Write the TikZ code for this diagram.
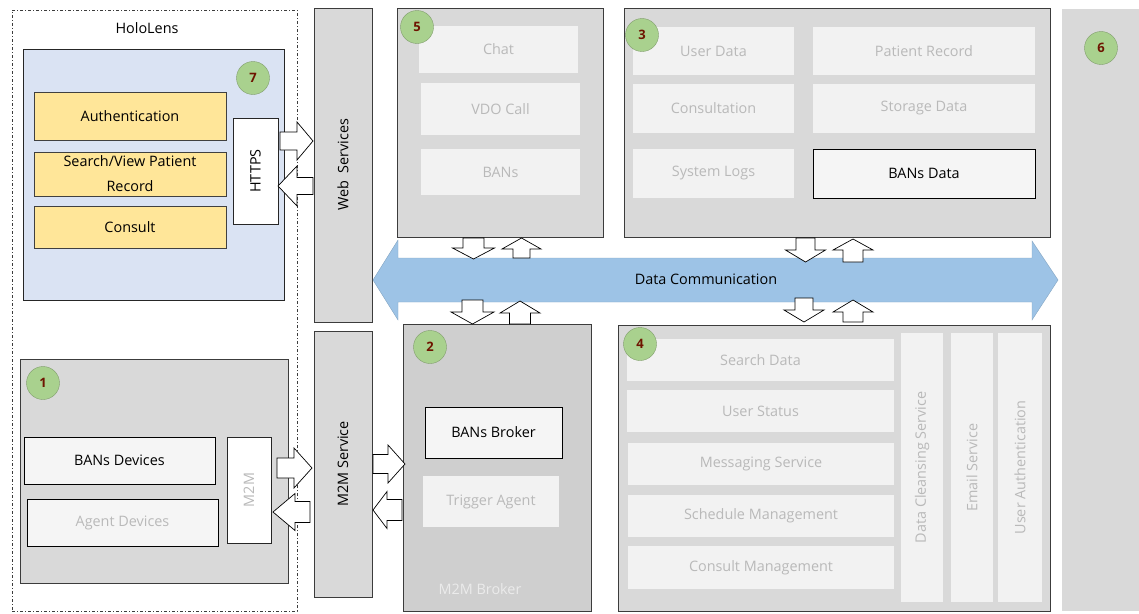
\documentclass[tikz,border=0pt]{standalone}
\usepackage{fontspec}
\setmainfont{Open Sans}
\definecolor{boxgray}{RGB}{217,217,217}
\definecolor{boxgrayB}{RGB}{207,207,207}
\definecolor{innergray}{RGB}{242,242,242}
\definecolor{fainttext}{RGB}{185,185,185}
\definecolor{holoblue}{RGB}{218,227,243}
\definecolor{yel}{RGB}{255,230,153}
\definecolor{commblue}{RGB}{157,195,230}
\definecolor{badgegreen}{RGB}{169,209,142}
\definecolor{badgetext}{RGB}{110,20,0}
\definecolor{edge}{RGB}{60,60,60}
% box by corners: style, name, x1, y1, x2, y2, text
\newcommand{\Bx}[7]{\node[#1,minimum width={(#5)-(#3)},minimum height={(#6)-(#4)}] (#2) at ({((#3)+(#5))/2},{((#4)+(#6))/2}) {#7};}
% rotated (text reads upward)
\newcommand{\Bxr}[7]{\node[#1,rotate=90,minimum height={(#5)-(#3)},minimum width={(#6)-(#4)}] (#2) at ({((#3)+(#5))/2},{((#4)+(#6))/2}) {#7};}
% horizontal block arrow: tail x, head base x, tip x, mid y, shaft half, head half
\newcommand{\Harr}[6]{\draw[blk] ({#1},{#4-#5}) -- ({#2},{#4-#5}) -- ({#2},{#4-#6}) -- ({#3},{#4}) -- ({#2},{#4+#6}) -- ({#2},{#4+#5}) -- ({#1},{#4+#5}) -- cycle;}
% vertical block arrow: tail y, head base y, tip y, mid x, shaft half, head half
\newcommand{\Varr}[6]{\draw[blk] ({#4-#5},{#1}) -- ({#4-#5},{#2}) -- ({#4-#6},{#2}) -- ({#4},{#3}) -- ({#4+#6},{#2}) -- ({#4+#5},{#2}) -- ({#4+#5},{#1}) -- cycle;}
\begin{document}
\begin{tikzpicture}[x=1pt,y=-1pt,
  base/.style={inner sep=0pt, outer sep=0pt, font=\fontsize{14.4}{25}\selectfont, align=center},
  container/.style={base, fill=boxgray, draw=edge, line width=0.7pt},
  faint/.style={base, fill=innergray, text=fainttext},
  whitebox/.style={base, fill=white!96!black, draw=black, line width=0.8pt},
  yellowbox/.style={base, fill=yel, draw=black!75, line width=0.6pt},
  badge/.style={circle, fill=badgegreen, draw=badgegreen!75!black, line width=0.4pt, minimum size=33pt, inner sep=0pt, font=\fontsize{13}{13}\selectfont\bfseries, text=badgetext},
  blk/.style={fill=white, draw=black, line width=0.7pt, line join=miter},
]
\useasboundingbox (0,0) rectangle (1139,613);

% HoloLens frame
\Bx{base, draw=edge, line width=0.7pt, dash pattern=on 3pt off 2pt on 1pt off 2pt}{holo}{12}{10}{297}{611}{}
\node[base] (hololabel) at (147,28) {HoloLens};

% box 7
\Bx{base, fill=holoblue, draw=black!85, line width=0.7pt}{b7}{23}{49}{284}{300}{}
\Bx{yellowbox}{auth}{34}{92}{226}{140}{Authentication}
\Bx{yellowbox}{search}{34}{152}{226}{196}{Search/View Patient\\Record}
\Bx{yellowbox}{consult}{34}{206}{226}{248}{Consult}
\Bxr{base, fill=white, draw=black!85, line width=0.7pt}{https}{233}{118}{278}{224}{HTTPS}
\node[badge] (n7) at (253,78) {7};

% box 1
\Bx{container}{b1}{20}{359}{288}{583}{}
\Bx{whitebox}{bansdev}{24}{437}{215}{484}{BANs Devices}
\Bx{whitebox, text=fainttext}{agentdev}{27}{499}{218}{546}{Agent Devices}
\Bxr{base, fill=white, draw=black!85, line width=0.7pt, text=fainttext}{m2m}{227}{437}{271}{543}{M2M}
\node[badge] (n1) at (43,383) {1};

% service bars
\Bxr{container}{web}{314}{8}{372}{322}{Web\ \ Services}
\Bxr{container}{m2msvc}{314}{331}{372}{597}{M2M Service}

% box 5
\Bx{container}{b5}{397}{8}{603}{237}{}
\Bx{faint}{chat}{419}{26}{578}{73}{Chat}
\Bx{faint}{vdo}{421}{83}{580}{135}{VDO Call}
\Bx{faint}{bans}{421}{149}{580}{195}{BANs}
\node[badge] (n5) at (417,27) {5};

% box 3
\Bx{container}{b3}{624}{8}{1050}{237}{}
\Bx{faint}{userdata}{633}{27}{794}{75}{User Data}
\Bx{faint}{patrec}{813}{27}{1035}{75}{Patient Record}
\Bx{faint}{consultation}{633}{84}{794}{133}{Consultation}
\Bx{faint}{storage}{813}{84}{1035}{133}{Storage Data}
\Bx{faint}{syslogs}{633}{149}{794}{198}{System Logs}
\Bx{whitebox}{bansdata}{813}{149}{1035}{198}{BANs Data}
\node[badge] (n3) at (642,35) {3};

% box 6
\Bx{base, fill=boxgray}{b6}{1062}{9}{1139}{611}{}
\node[badge] (n6) at (1101,48) {6};

% box 2
\Bx{container, fill=boxgrayB}{b2}{403}{324}{591}{611}{}
\Bx{whitebox}{broker}{425}{407}{562}{458}{BANs Broker}
\Bx{faint}{trigger}{423}{476}{559}{527}{Trigger Agent}
\node[base, text=black!8] (m2mbroker) at (480,589) {M2M Broker};
\node[badge] (n2) at (430,347) {2};

% box 4
\Bx{container}{b4}{618}{325}{1050}{611}{}
\Bx{faint}{searchdata}{627}{339}{894}{381}{Search Data}
\Bx{faint}{userstatus}{627}{390}{894}{432}{User Status}
\Bx{faint}{messaging}{628}{443}{894}{485}{Messaging Service}
\Bx{faint}{schedule}{628}{495}{894}{537}{Schedule Management}
\Bx{faint}{consultmgmt}{628}{546}{894}{589}{Consult Management}
\Bxr{faint}{cleansing}{901}{333}{943}{602}{Data Cleansing Service}
\Bxr{faint}{email}{951}{333}{993}{602}{Email Service}
\Bxr{faint}{userauth}{998}{333}{1042}{602}{User Authentication}
\node[badge] (n4) at (640,344) {4};

% Data Communication band
\draw[fill=commblue, draw=commblue!85!black, line width=0.4pt]
  (373,280) -- (398,240) -- (398,258) -- (1032,258) -- (1032,241) -- (1058,280)
  -- (1032,320) -- (1032,302) -- (398,302) -- (398,320) -- cycle;
\node[base] (datacomm) at (706,279) {Data Communication};

% block arrows HTTPS <-> Web Services
\Harr{280}{297}{313}{141}{9}{19}
\Harr{313}{297}{278}{186}{8.5}{20}
% M2M <-> M2M Service
\Harr{277}{294}{312}{468}{10}{20}
\Harr{310}{295}{273}{512}{10.5}{18.5}
% M2M Service <-> box 2
\Harr{373}{388}{405}{464}{9.5}{19}
\Harr{402}{387}{373}{510}{10.5}{18.5}
% box 5 <-> band
\Varr{238}{248}{259}{473.5}{10.5}{21}
\Varr{258}{249}{238}{521.5}{8.5}{19.5}
% box 3 <-> band
\Varr{238}{250}{262}{805.5}{9.5}{20}
\Varr{262}{250}{239}{853}{10}{20}
% band <-> box 2
\Varr{300}{312}{324}{472.5}{10.5}{21.5}
\Varr{324}{313}{301}{520}{10.5}{20}
% band <-> box 4
\Varr{298}{310}{322}{804}{9}{20}
\Varr{322}{312}{300}{853}{10}{20}
\end{tikzpicture}
\end{document}
